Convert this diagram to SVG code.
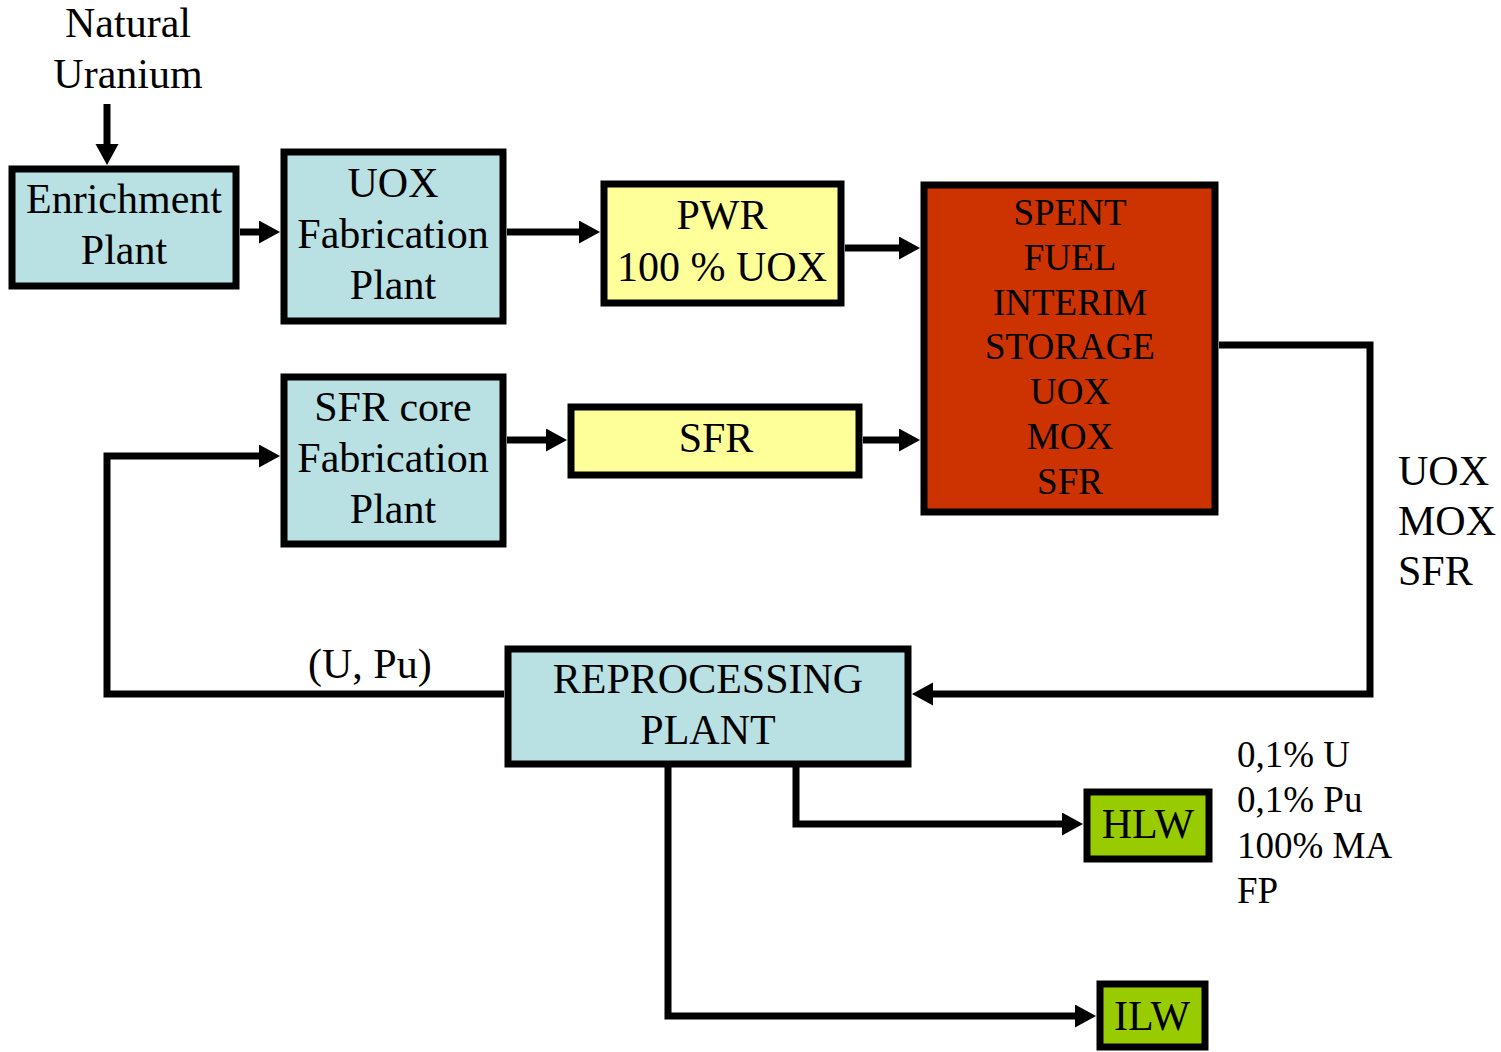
<svg xmlns="http://www.w3.org/2000/svg" width="1501" height="1052" viewBox="0 0 1501 1052">
<style>
text{font-family:"Liberation Serif","Times New Roman",serif;fill:#000;}
.t42{font-size:42px;text-anchor:middle;}
.t37{font-size:37px;text-anchor:middle;}
.lbl{font-size:42px;}
.lbl37{font-size:37px;}
.box{stroke:#000;stroke-width:7;}
.blue{fill:#B9E0E3;}
.yel{fill:#FFFF99;}
.red{fill:#CC3300;}
.grn{fill:#99CC00;}
.con{fill:none;stroke:#000;stroke-width:7;stroke-linejoin:miter;marker-end:url(#ah);}
.line{fill:none;stroke:#000;stroke-width:7;stroke-linejoin:miter;}
</style>
<defs>
<marker id="ah" markerUnits="userSpaceOnUse" markerWidth="22" markerHeight="24" refX="11" refY="11.5" orient="auto">
<path d="M0,0 L21,11.5 L0,23 Z" fill="#000"/>
</marker>
</defs>
<rect width="1501" height="1052" fill="#fff"/>
<g id="connectors">
<path class="con" d="M107,104 V155"/>
<path class="con" d="M240,232 H270"/>
<path class="con" d="M507,232 H590"/>
<path class="con" d="M845,248 H910"/>
<path class="con" d="M507,440 H557"/>
<path class="con" d="M863,440 H910"/>
<path class="con" d="M1219,345 H1370 V694 H922"/>
<path class="con" d="M504,694 H107 V456 H270"/>
<path class="con" d="M796,766 V824 H1073"/>
<path class="con" d="M668,766 V1016 H1086"/>
</g>
<g id="natural-uranium">
<text class="t42" x="128" y="37">Natural</text>
<text class="t42" x="128" y="88">Uranium</text>
</g>
<g id="enrichment">
<rect class="box blue" x="12" y="169" width="224" height="117"/>
<text class="t42" x="124" y="213">Enrichment</text>
<text class="t42" x="124" y="264">Plant</text>
</g>
<g id="uox-fab">
<rect class="box blue" x="284" y="152" width="219" height="169"/>
<text class="t42" x="393" y="197">UOX</text>
<text class="t42" x="393" y="248">Fabrication</text>
<text class="t42" x="393" y="299">Plant</text>
</g>
<g id="pwr">
<rect class="box yel" x="604" y="184" width="237" height="119"/>
<text class="t42" x="722" y="229">PWR</text>
<text class="t42" x="722" y="281">100 % UOX</text>
</g>
<g id="spent-fuel">
<rect class="box red" x="924" y="185" width="291" height="327"/>
<text class="t37" x="1070" y="225">SPENT</text>
<text class="t37" x="1070" y="270">FUEL</text>
<text class="t37" x="1070" y="315">INTERIM</text>
<text class="t37" x="1070" y="359">STORAGE</text>
<text class="t37" x="1070" y="404">UOX</text>
<text class="t37" x="1070" y="449">MOX</text>
<text class="t37" x="1070" y="494">SFR</text>
</g>
<g id="sfr-fab">
<rect class="box blue" x="284" y="377" width="219" height="167"/>
<text class="t42" x="393" y="421">SFR core</text>
<text class="t42" x="393" y="472">Fabrication</text>
<text class="t42" x="393" y="523">Plant</text>
</g>
<g id="sfr">
<rect class="box yel" x="571" y="407" width="288" height="68"/>
<text class="t42" x="716" y="452">SFR</text>
</g>
<g id="flow-label">
<text class="lbl" x="1398" y="485">UOX</text>
<text class="lbl" x="1398" y="535">MOX</text>
<text class="lbl" x="1398" y="585">SFR</text>
</g>
<g id="upu-label">
<text class="lbl" x="308" y="678">(U, Pu)</text>
</g>
<g id="reprocessing">
<rect class="box blue" x="508" y="649" width="400" height="115"/>
<text class="t42" x="708" y="693">REPROCESSING</text>
<text class="t42" x="708" y="744">PLANT</text>
</g>
<g id="hlw">
<rect class="box grn" x="1087" y="792" width="122" height="67"/>
<text class="t42" x="1148" y="838">HLW</text>
</g>
<g id="hlw-label">
<text class="lbl37" x="1237" y="767">0,1% U</text>
<text class="lbl37" x="1237" y="812">0,1% Pu</text>
<text class="lbl37" x="1237" y="858">100% MA</text>
<text class="lbl37" x="1237" y="903">FP</text>
</g>
<g id="ilw">
<rect class="box grn" x="1100" y="984" width="105" height="63"/>
<text class="t42" x="1152" y="1030">ILW</text>
</g>
</svg>
